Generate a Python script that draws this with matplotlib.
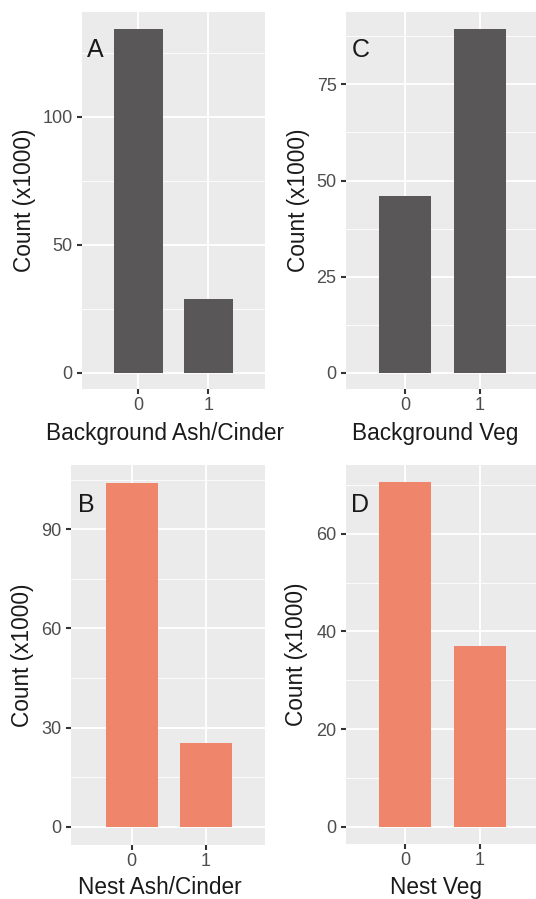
import matplotlib
matplotlib.use("Agg")
import matplotlib.pyplot as plt
from matplotlib.ticker import MultipleLocator, FixedLocator

plt.rcParams['font.family'] = ['Liberation Sans', 'DejaVu Sans']

categories = ["0", "1"]
bg_ash = [134.3, 28.7]
bg_veg = [46.0, 89.4]
nest_ash = [104.1, 25.3]
nest_veg = [70.6, 37.1]

W, H = 536, 899
fig = plt.figure(figsize=(W / 100, H / 100), dpi=100)

DARK = "#595757"
SALMON = "#EF866B"
BG = "#EBEBEB"
TITLE = "#1A1A1A"

panels = [
    # letter, values, color, xlabel, panel box px, xlim, ylim, major step,
    # letter pos px, xlabel pos px (center, baseline), ylabel center x px
    ("A", bg_ash, DARK, "Background Ash/Cinder", (82, 265, 12, 389.3), (-0.804, 1.81), (-6.5, 140.9), 50,
     (87.3, 57.3), (165.5, 440), 24),
    ("C", bg_veg, DARK, "Background Veg", (345.7, 536, 11.7, 389.3), (-0.802, 1.759), (-4.3, 93.9), 25,
     (351.3, 57.3), (435, 440), 298),
    ("B", nest_ash, SALMON, "Nest Ash/Cinder", (71, 265, 465, 845), (-0.82, 1.80), (-5.5, 109.4), 30,
     (77.7, 511.7), (160, 894), 23),
    ("D", nest_veg, SALMON, "Nest Veg", (345.7, 536, 465, 844.3), (-0.802, 1.759), (-3.6, 74.1), 20,
     (351.3, 511.7), (435.5, 894), 297),
]

for letter, vals, col, xlab, (l, r, t, b), xl, yl, major, (lx, ly), (xx, xy), yx in panels:
    ax = fig.add_axes([l / W, 1 - b / H, (r - l) / W, (b - t) / H])
    ax.set_facecolor(BG)
    ax.set_xlim(*xl)
    ax.set_ylim(*yl)
    ax.yaxis.set_major_locator(MultipleLocator(major))
    ax.yaxis.set_minor_locator(MultipleLocator(major / 2))
    ax.xaxis.set_major_locator(FixedLocator([0, 1]))
    ax.grid(which="major", color="white", linewidth=1.3)
    ax.grid(which="minor", axis="y", color="white", linewidth=0.6)
    ax.set_axisbelow(True)
    ax.bar([0, 1], vals, width=0.7, color=col, edgecolor="none", zorder=2)
    ax.set_xticks([0, 1])
    ax.set_xticklabels(categories)
    for s in ax.spines.values():
        s.set_visible(False)
    ax.tick_params(axis="both", which="major", length=3.6, width=1.5, color="#333333",
                   labelcolor="#4D4D4D", labelsize=13, pad=3)
    ax.tick_params(axis="x", which="major", pad=2)
    ax.tick_params(axis="y", which="minor", length=0)
    # axis titles placed at measured pixel positions
    fig.text(xx / W, 1 - xy / H, xlab, fontsize=16.3, color=TITLE,
             ha="center", va="baseline")
    fig.text(yx / W, 1 - ((t + b) / 2) / H, "Count (x1000)", fontsize=16.3, color=TITLE,
             ha="center", va="center", rotation=90)
    fig.text(lx / W, 1 - ly / H, letter, fontsize=18, color=TITLE,
             ha="left", va="baseline", zorder=3)

fig.savefig("out.png", dpi=100)
